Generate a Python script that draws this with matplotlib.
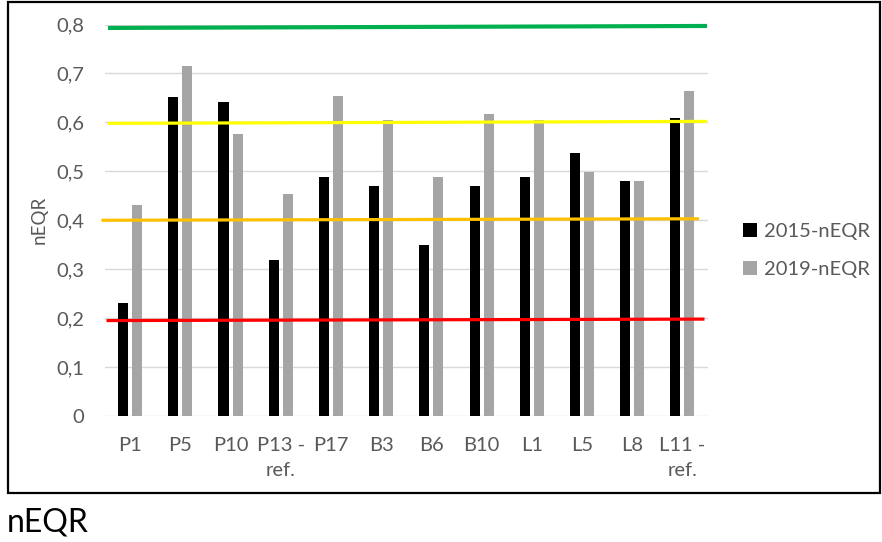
import numpy as np
import matplotlib.pyplot as plt
from matplotlib.patches import Rectangle

plt.rcParams['font.family'] = ['Lato', 'DejaVu Sans']

# stations and nEQR values per survey year
stations = ['P1', 'P5', 'P10', 'P13 -\nref.', 'P17', 'B3', 'B6', 'B10', 'L1', 'L5', 'L8', 'L11 -\nref.']
neqr_2015 = [0.23, 0.651, 0.641, 0.319, 0.489, 0.471, 0.350, 0.470, 0.489, 0.538, 0.481, 0.609]
neqr_2019 = [0.432, 0.715, 0.577, 0.453, 0.654, 0.605, 0.488, 0.618, 0.605, 0.499, 0.481, 0.665]

# class boundaries (hand-drawn lines: level at left end, level at right end)
boundary_colors = ['#00b050', '#ffff00', '#ffc000', '#ff0000']
boundary_left = [0.793, 0.598, 0.400, 0.195]
boundary_right = [0.797, 0.602, 0.403, 0.198]
boundary_xstart = [-0.44, -0.44, -0.57, -0.47]
boundary_xend = [11.49, 11.49, 11.33, 11.44]

W, H = 882, 542
fig = plt.figure(figsize=(W / 100, H / 100), dpi=100)
ax = fig.add_axes([105 / W, 1 - 416 / H, (707.5 - 105) / W, (416 - 24.5) / H])

x = np.arange(len(stations))
bw = 0.2
ax.bar(x - 0.14, neqr_2015, bw, color='black', label='2015-nEQR', zorder=2)
ax.bar(x + 0.14, neqr_2019, bw, color='#a5a5a5', label='2019-nEQR', zorder=2)

for c, y0, y1, x0, x1 in zip(boundary_colors, boundary_left, boundary_right,
                             boundary_xstart, boundary_xend):
    lw = 3 if c == '#00b050' else 2.3
    ax.plot([x0, x1], [y0, y1], color=c, lw=lw, zorder=3, clip_on=False,
            solid_capstyle='butt')

ax.set_xlim(-0.5, len(stations) - 0.5)
ax.set_ylim(0, 0.8)
ax.set_yticks(np.arange(0, 0.81, 0.1))
ax.set_yticklabels(['0'] + [f'0,{i}' for i in range(1, 9)])
ax.set_xticks(x)
ax.set_xticklabels(stations, linespacing=1.55)
ax.grid(axis='y', color='#d9d9d9', lw=1, zorder=0)
ax.set_axisbelow(True)
for s in ax.spines.values():
    s.set_visible(False)
ax.tick_params(axis='both', length=0, colors='#595959', labelsize=14.5)
ax.tick_params(axis='y', pad=15)
ax.tick_params(axis='x', pad=15)
ax.set_ylabel('nEQR', color='#595959', fontsize=13.5, labelpad=6)

leg = ax.legend(loc='center left', bbox_to_anchor=(733 / W, 1 - 250.5 / H),
                bbox_transform=fig.transFigure, frameon=False, fontsize=14.5,
                handlelength=0.7, handleheight=0.7, handletextpad=0.35,
                labelspacing=1.0, borderpad=0)
for t in leg.get_texts():
    t.set_color('#595959')

# outer frame and caption
fig.patches.append(Rectangle((8 / W, 1 - 493 / H), (880 - 8) / W, (493 - 2) / H,
                             transform=fig.transFigure, fill=False,
                             edgecolor='black', lw=1.6))
fig.text(7 / W, 1 - 522 / H, 'nEQR', fontsize=23, color='black', va='center', ha='left')

fig.savefig('out.png', dpi=100)
